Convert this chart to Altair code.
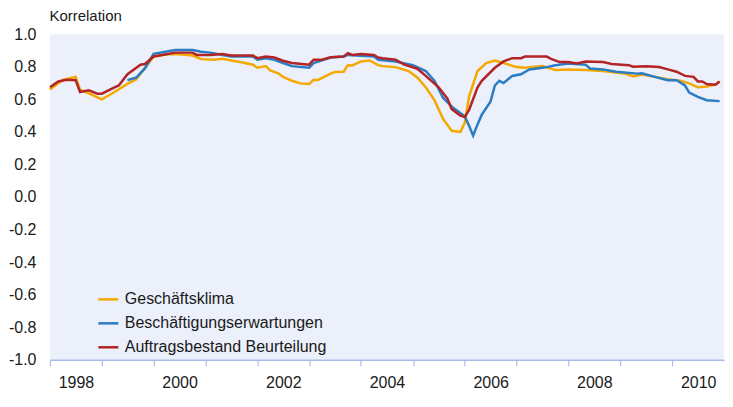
import altair as alt
import pandas as pd

series_names = ["Geschäftsklima", "Beschäftigungserwartungen", "Auftragsbestand Beurteilung"]
series_colors = ["#F5A800", "#2A7DC4", "#B42325"]

klima_dates = ["1998-01", "1998-04", "1998-07", "1998-08", "1998-11", "1999-01", "1999-04", "1999-07",
               "1999-09", "1999-11", "2000-01", "2000-04", "2000-07", "2000-10", "2000-12", "2001-03",
               "2001-05", "2001-07", "2001-09", "2001-12", "2002-01", "2002-03", "2002-04", "2002-06",
               "2002-07", "2002-09", "2002-11", "2003-01", "2003-02", "2003-03", "2003-06", "2003-07",
               "2003-09", "2003-10", "2003-11", "2004-01", "2004-03", "2004-05", "2004-06", "2004-09",
               "2004-12", "2005-02", "2005-04", "2005-06", "2005-08", "2005-10", "2005-12", "2006-01",
               "2006-02", "2006-04", "2006-06", "2006-08", "2006-10", "2007-01", "2007-03", "2007-07",
               "2007-10", "2008-01", "2008-05", "2008-09", "2009-02", "2009-04", "2009-06", "2009-09",
               "2009-12", "2010-03", "2010-05", "2010-07", "2010-09", "2010-11", "2010-12"]
klima_values = [0.66, 0.72, 0.738, 0.66, 0.625, 0.60, 0.645, 0.695,
                0.724, 0.794, 0.862, 0.877, 0.877, 0.869, 0.847, 0.843,
                0.849, 0.839, 0.829, 0.813, 0.794, 0.804, 0.778, 0.758,
                0.738, 0.714, 0.698, 0.694, 0.72, 0.718, 0.758, 0.768,
                0.77, 0.81, 0.808, 0.833, 0.839, 0.81, 0.804, 0.798,
                0.774, 0.734, 0.674, 0.595, 0.48, 0.407, 0.40, 0.456,
                0.62, 0.774, 0.823, 0.839, 0.823, 0.798, 0.794, 0.804,
                0.78, 0.784, 0.78, 0.774, 0.758, 0.74, 0.752, 0.738,
                0.724, 0.714, 0.698, 0.674, 0.679, 0.69, 0.71]

besch_dates = ["1999-07", "1999-09", "1999-11", "2000-01", "2000-06", "2000-10", "2000-12", "2001-02",
               "2001-05", "2001-07", "2001-12", "2002-01", "2002-03", "2002-05", "2002-07", "2002-09",
               "2003-01", "2003-02", "2003-04", "2003-06", "2003-09", "2003-10", "2004-04", "2004-05",
               "2004-09", "2005-01", "2005-04", "2005-06", "2005-08", "2005-10", "2006-01", "2006-02",
               "2006-03", "2006-04", "2006-05", "2006-07", "2006-08", "2006-09", "2006-10", "2006-12",
               "2007-02", "2007-04", "2007-07", "2007-08", "2007-10", "2008-01", "2008-05", "2008-06",
               "2008-09", "2008-12", "2009-05", "2009-06", "2009-09", "2009-12", "2010-02", "2010-04",
               "2010-05", "2010-07", "2010-09", "2010-12"]
besch_values = [0.718, 0.734, 0.79, 0.88, 0.903, 0.903, 0.893, 0.887,
                0.873, 0.863, 0.863, 0.843, 0.853, 0.843, 0.823, 0.804,
                0.794, 0.823, 0.839, 0.857, 0.863, 0.873, 0.863, 0.843,
                0.833, 0.81, 0.774, 0.714, 0.61, 0.555, 0.496, 0.436,
                0.377, 0.446, 0.506, 0.585, 0.685, 0.714, 0.70, 0.744,
                0.754, 0.784, 0.794, 0.798, 0.81, 0.82, 0.813, 0.79,
                0.784, 0.77, 0.758, 0.76, 0.738, 0.718, 0.718, 0.685,
                0.641, 0.615, 0.595, 0.589]

auftr_dates = ["1998-01", "1998-03", "1998-05", "1998-07", "1998-08", "1998-10", "1998-12", "1999-01",
               "1999-04", "1999-05", "1999-07", "1999-10", "1999-11", "2000-01", "2000-04", "2000-06",
               "2000-10", "2000-11", "2001-02", "2001-05", "2001-07", "2001-12", "2002-01", "2002-03",
               "2002-05", "2002-07", "2002-09", "2003-01", "2003-02", "2003-04", "2003-06", "2003-09",
               "2003-10", "2003-11", "2004-01", "2004-04", "2004-05", "2004-06", "2004-09", "2004-11",
               "2005-02", "2005-04", "2005-07", "2005-09", "2005-10", "2005-12", "2006-01", "2006-02",
               "2006-04", "2006-05", "2006-08", "2006-10", "2006-12", "2007-02", "2007-03", "2007-08",
               "2007-09", "2007-11", "2008-01", "2008-03", "2008-05", "2008-09", "2008-11", "2009-03",
               "2009-04", "2009-07", "2009-10", "2009-12", "2010-02", "2010-04", "2010-06", "2010-07",
               "2010-08", "2010-09", "2010-11", "2010-12"]
auftr_values = [0.674, 0.71, 0.72, 0.718, 0.645, 0.655, 0.635, 0.635,
                0.674, 0.685, 0.754, 0.813, 0.817, 0.863, 0.877, 0.887,
                0.887, 0.873, 0.873, 0.879, 0.869, 0.869, 0.853, 0.863,
                0.857, 0.837, 0.823, 0.813, 0.843, 0.843, 0.859, 0.863,
                0.883, 0.873, 0.879, 0.873, 0.857, 0.853, 0.843, 0.813,
                0.788, 0.744, 0.674, 0.605, 0.54, 0.50, 0.492, 0.536,
                0.674, 0.714, 0.794, 0.833, 0.853, 0.853, 0.863, 0.863,
                0.849, 0.829, 0.829, 0.82, 0.833, 0.829, 0.817, 0.81,
                0.80, 0.804, 0.798, 0.784, 0.77, 0.744, 0.738, 0.71,
                0.71, 0.694, 0.69, 0.71]

y_ticks = [-1.0, -0.8, -0.6, -0.4, -0.2, 0.0, 0.2, 0.4, 0.6, 0.8, 1.0]
tick_years = list(range(1998, 2011))

frames = []
for name, dates, values in [(series_names[0], klima_dates, klima_values),
                            (series_names[1], besch_dates, besch_values),
                            (series_names[2], auftr_dates, auftr_values)]:
    frames.append(pd.DataFrame({
        "date": pd.to_datetime([d + "-01" for d in dates]),
        "value": values,
        "series": name,
    }))
df = pd.concat(frames, ignore_index=True)

FONT = "Liberation Sans"
AXIS_BLUE = "#A6BCE8"

chart = alt.Chart(df).mark_line(strokeWidth=2.5).encode(
    x=alt.X("date:T",
            scale=alt.Scale(domain=[alt.DateTime(year=1998, month=1, date=1),
                                    alt.DateTime(year=2011, month=1, date=1)]),
            axis=alt.Axis(
                title=None,
                values=[alt.DateTime(year=y, month=1, date=1) for y in tick_years],
                labelExpr="year(datum.value) % 2 == 0 ? timeFormat(datum.value, '%Y') : ''",
                labelOffset=26,
                labelFlush=False,
                labelOverlap=False,
                labelPadding=9,
                labelFontSize=16,
                labelColor="#1a1a1a",
                labelFont=FONT,
                grid=False,
                domainColor=AXIS_BLUE,
                domainWidth=1.5,
                tickColor=AXIS_BLUE,
                tickSize=6,
                tickWidth=1.2,
            )),
    y=alt.Y("value:Q",
            scale=alt.Scale(domain=[-1, 1], nice=False),
            axis=alt.Axis(
                title="Korrelation",
                titleAngle=0,
                titleAlign="left",
                titleBaseline="top",
                titleX=-1,
                titleY=-26,
                titleFontSize=15,
                titleFontWeight="normal",
                titleFont=FONT,
                titleColor="#1a1a1a",
                values=y_ticks,
                labelExpr="replace(format(datum.value, '.1f'), '\u2212', '-')",
                labelFontSize=16,
                labelColor="#1a1a1a",
                labelFont=FONT,
                labelPadding=14,
                grid=False,
                domain=False,
                ticks=False,
            )),
    color=alt.Color("series:N",
                    scale=alt.Scale(domain=series_names, range=series_colors),
                    sort=series_names,
                    legend=alt.Legend(
                        title=None,
                        orient="none",
                        legendX=47,
                        legendY=254,
                        symbolType="stroke",
                        symbolStrokeWidth=2.5,
                        symbolSize=400,
                        labelFontSize=16,
                        labelFont=FONT,
                        labelColor="#1a1a1a",
                        labelOffset=5,
                        labelLimit=0,
                        rowPadding=4,
                        padding=0,
                    )),
    order=alt.Order("date:T"),
).properties(
    width=675,
    height=326,
    padding={"left": 0, "top": 0, "right": 0, "bottom": 0},
).configure_view(
    fill="#EBF0FA",
    stroke=None,
)

chart.save("out.html", embed_options={"renderer": "svg", "actions": False})
